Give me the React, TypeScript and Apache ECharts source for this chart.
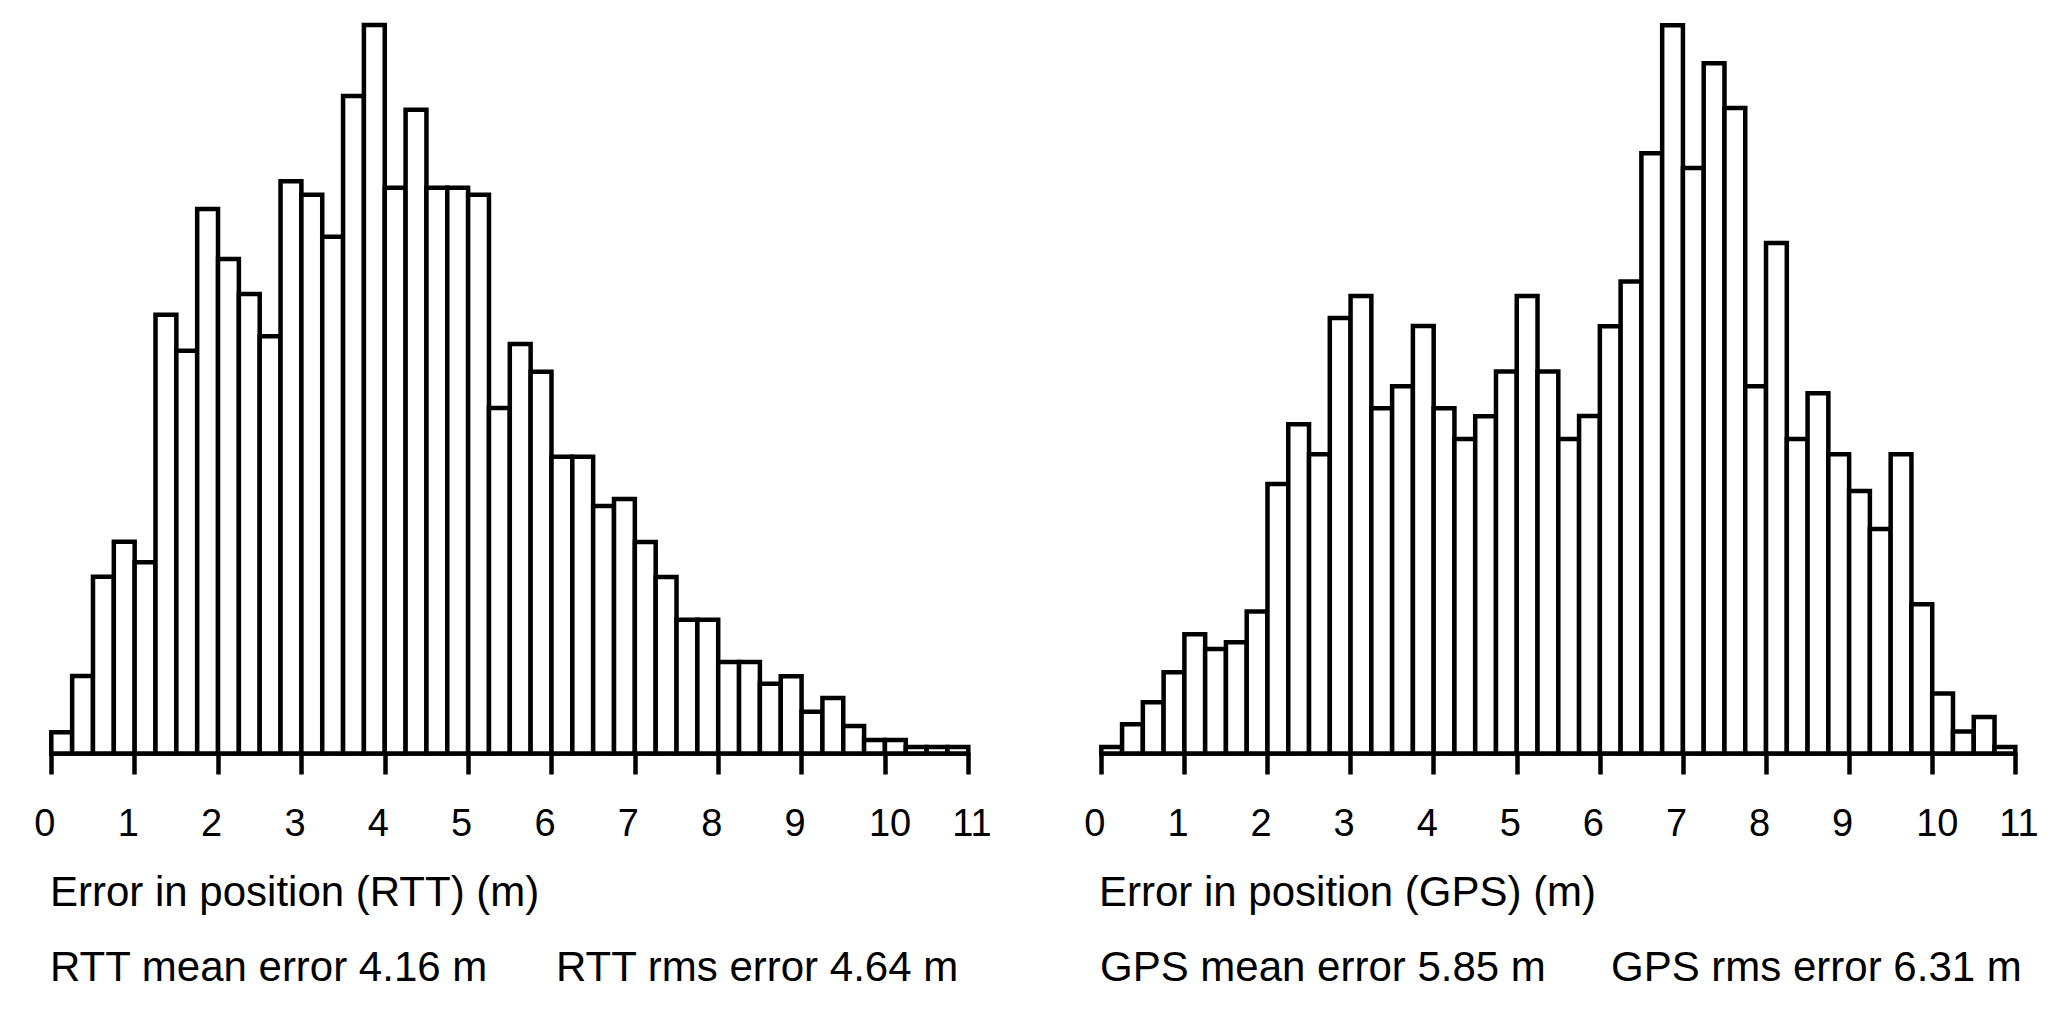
import React, { useEffect, useRef } from "react";
import * as echarts from "echarts";

// Histogram bins (left edge of each bin, metres) and bin width
const binStarts = [
  0, 0.25, 0.5, 0.75, 1, 1.25, 1.5, 1.75, 2, 2.25, 2.5, 2.75,
  3, 3.25, 3.5, 3.75, 4, 4.25, 4.5, 4.75, 5, 5.25, 5.5, 5.75,
  6, 6.25, 6.5, 6.75, 7, 7.25, 7.5, 7.75, 8, 8.25, 8.5, 8.75,
  9, 9.25, 9.5, 9.75, 10, 10.25, 10.5, 10.75,
];
const binWidth = 0.25;

// Relative frequency (arbitrary units) per bin
const rttHeights = [
  21.2, 77.5, 176.8, 211.8, 191.2, 438.8, 402.8, 544.5, 494.5, 459.5, 417.2,
  572.2, 558.8, 516.8, 657.5, 728.5, 565.8, 643.8, 565.8, 565.8, 558.8, 345.5,
  409.5, 381.8, 296.8, 296.8, 247.5, 254.5, 211.5, 176.5, 133.8, 133.8, 91.5,
  91.5, 69.8, 77.2, 41.8, 55.5, 27.5, 13.5, 13.5, 6.5, 6.5, 6.5,
];
const gpsHeights = [
  6.6, 29.3, 51.3, 81.3, 119.3, 104.6, 111.3, 142, 269.5, 329.3, 299.3, 435.6,
  457.6, 345.3, 367.3, 427.6, 345.3, 314.6, 337.3, 382, 457.6, 382, 314.6,
  337.6, 427.3, 472, 600.3, 728.3, 585.6, 690.3, 645.6, 367.3, 510.6, 314.6,
  360.3, 299.3, 262.5, 224.6, 299.3, 149.3, 60, 22, 36.6, 6.6,
];

const tickLabels = ["0", "1", "2", "3", "4", "5", "6", "7", "8", "9", "10", "11"];
const tickValues = [0, 1, 2, 3, 4, 5, 6, 7, 8, 9, 10, 11];

const rttTitle = "Error in position (RTT) (m)";
const gpsTitle = "Error in position (GPS) (m)";
const rttMean = "RTT mean error 4.16 m";
const rttRms = "RTT rms error 4.64 m";
const gpsMean = "GPS mean error 5.85 m";
const gpsRms = "GPS rms error 6.31 m";

const FONT = "'Liberation Sans', Arial, Helvetica, sans-serif";
const LW = 4.5;

function buildData(heights: number[]) {
  return binStarts.map((s, i) => [s, s + binWidth, heights[i]]);
}

const renderBar = (params: any, api: any) => {
  const x0 = api.value(0);
  const x1 = api.value(1);
  const h = api.value(2);
  const p0 = api.coord([x0, 0]);
  const p1 = api.coord([x1, h]);
  return {
    type: "rect",
    shape: { x: p0[0], y: p1[1], width: p1[0] - p0[0], height: p0[1] - p1[1] },
    style: { fill: "#ffffff", stroke: "#000000", lineWidth: LW },
  };
};

function xAxisCfg(gridIndex: number) {
  return {
    gridIndex,
    type: "value",
    min: 0,
    max: 11,
    interval: 1,
    axisLine: { show: true, lineStyle: { color: "#000", width: LW } },
    axisTick: { show: true, length: 21, lineStyle: { color: "#000", width: LW } },
    axisLabel: { show: false },
    splitLine: { show: false },
  };
}

function yAxisCfg(gridIndex: number) {
  return { gridIndex, type: "value", min: 0, max: 728.5, show: false, splitLine: { show: false } };
}

function txt(text: string, x: number, y: number, fontSize: number) {
  return {
    type: "text",
    x,
    y,
    silent: true,
    style: {
      text,
      fill: "#000",
      fontSize,
      fontFamily: FONT,
      align: "left",
      verticalAlign: "middle",
    },
  };
}

export default function App() {
  const ref = useRef<HTMLDivElement>(null);

  useEffect(() => {
    if (!ref.current) return;
    const chart = echarts.init(ref.current, undefined, { renderer: "svg" });
    chart.setOption({
      animation: false,
      backgroundColor: "#ffffff",
      grid: [
        { left: 51.3, top: 25, width: 917, height: 728.5 },
        { left: 1101.3, top: 25, width: 914, height: 728.5 },
      ],
      xAxis: [xAxisCfg(0), xAxisCfg(1)],
      yAxis: [yAxisCfg(0), yAxisCfg(1)],
      series: [
        {
          type: "custom",
          xAxisIndex: 0,
          yAxisIndex: 0,
          renderItem: renderBar,
          encode: { x: [0, 1], y: 2 },
          data: buildData(rttHeights),
          z: 3,
        },
        {
          type: "custom",
          xAxisIndex: 1,
          yAxisIndex: 1,
          renderItem: renderBar,
          encode: { x: [0, 1], y: 2 },
          data: buildData(gpsHeights),
          z: 3,
        },
      ],
    });

    const graphics: any[] = [];
    [0, 1].forEach((ai) => {
      tickValues.forEach((v, i) => {
        const px = chart.convertToPixel({ xAxisIndex: ai } as any, v) as number;
        const lab = tickLabels[i];
        const off = lab.length === 1 ? 17 : 16;
        graphics.push(txt(lab, px - off, 823, 38));
      });
    });
    graphics.push(txt(rttTitle, 50, 891, 42));
    graphics.push(txt(rttMean, 50, 966, 42));
    graphics.push(txt(rttRms, 556, 966, 42));
    graphics.push(txt(gpsTitle, 1099, 891, 42));
    graphics.push(txt(gpsMean, 1100, 966, 42));
    graphics.push(txt(gpsRms, 1611, 966, 42));
    chart.setOption({ graphic: graphics });

    return () => chart.dispose();
  }, []);

  return (
    <div
      ref={ref}
      style={{ position: "absolute", left: 0, top: 0, width: 2066, height: 1022, background: "#fff" }}
    />
  );
}
